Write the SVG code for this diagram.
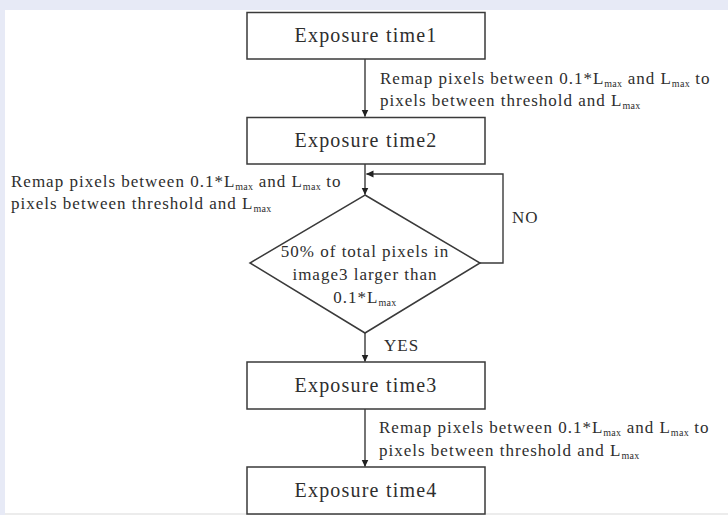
<svg xmlns="http://www.w3.org/2000/svg" width="728" height="515" viewBox="0 0 728 515">
<style>
  .box{fill:#fff;stroke:#3a3a3a;stroke-width:1.5}
  .bt{font-family:"Liberation Serif","Times New Roman",serif;font-size:20px;letter-spacing:1.2px;fill:#2e2e2e;text-anchor:middle}
  .lb{font-family:"Liberation Serif","Times New Roman",serif;font-size:17px;letter-spacing:1px;fill:#2e2e2e}
  .mid{text-anchor:middle}
  .sub{font-size:10px;letter-spacing:0.3px}
  .con{fill:none;stroke:#3a3a3a;stroke-width:1.4}
</style>
<defs>
  <marker id="ah" markerWidth="8" markerHeight="8" refX="7" refY="4" orient="auto" markerUnits="userSpaceOnUse">
    <path d="M0,0.5 L7.5,4 L0,7.5 Z" fill="#222"/>
  </marker>
</defs>
<rect x="0" y="0" width="728" height="515" fill="#e7eaf6"/>
<rect x="5" y="10" width="723" height="503" fill="#fff"/>
<rect x="5" y="513" width="723" height="2" fill="#ececec"/>

<g id="connectors">
  <line class="con" x1="365" y1="59" x2="365" y2="116.5" marker-end="url(#ah)"/>
  <line class="con" x1="365" y1="164" x2="365" y2="194.5" marker-end="url(#ah)"/>
  <polyline class="con" points="480,263 503,263 503,174 366.5,174" marker-end="url(#ah)"/>
  <line class="con" x1="365" y1="333" x2="365" y2="361.5" marker-end="url(#ah)"/>
  <line class="con" x1="365" y1="409" x2="365" y2="466.5" marker-end="url(#ah)"/>
</g>

<g id="label1">
  <text class="lb" x="380" y="84">Remap pixels between 0.1*L<tspan class="sub" dy="3">max</tspan><tspan dy="-3"> and L</tspan><tspan class="sub" dy="3">max</tspan><tspan dy="-3"> to</tspan></text>
  <text class="lb" x="380" y="106">pixels between threshold and L<tspan class="sub" dy="3">max</tspan></text>
</g>
<g id="label2">
  <text class="lb" x="11" y="187">Remap pixels between 0.1*L<tspan class="sub" dy="3">max</tspan><tspan dy="-3"> and L</tspan><tspan class="sub" dy="3">max</tspan><tspan dy="-3"> to</tspan></text>
  <text class="lb" x="11" y="209">pixels between threshold and L<tspan class="sub" dy="3">max</tspan></text>
</g>
<g id="label3">
  <text class="lb" x="379" y="433">Remap pixels between 0.1*L<tspan class="sub" dy="3">max</tspan><tspan dy="-3"> and L</tspan><tspan class="sub" dy="3">max</tspan><tspan dy="-3"> to</tspan></text>
  <text class="lb" x="379" y="456">pixels between threshold and L<tspan class="sub" dy="3">max</tspan></text>
</g>
<g id="label-no"><text class="lb" x="512" y="223">NO</text></g>
<g id="label-yes"><text class="lb" x="384" y="351">YES</text></g>

<g id="node-exp1">
  <rect class="box" x="247" y="12.5" width="238" height="46.5"/>
  <text class="bt" x="366" y="42">Exposure time1</text>
</g>
<g id="node-exp2">
  <rect class="box" x="247" y="117.5" width="238" height="46.5"/>
  <text class="bt" x="366" y="147">Exposure time2</text>
</g>
<g id="node-decision">
  <polygon class="box" points="365,195 480,263 365,333 250,263"/>
  <text class="lb mid" x="365" y="257">50% of total pixels in</text>
  <text class="lb mid" x="365" y="280">image3 larger than</text>
  <text class="lb mid" x="365" y="303">0.1*L<tspan class="sub" dy="3">max</tspan></text>
</g>
<g id="node-exp3">
  <rect class="box" x="247" y="362" width="238" height="47"/>
  <text class="bt" x="366" y="392">Exposure time3</text>
</g>
<g id="node-exp4">
  <rect class="box" x="247" y="467" width="238" height="47"/>
  <text class="bt" x="366" y="497">Exposure time4</text>
</g>
</svg>
